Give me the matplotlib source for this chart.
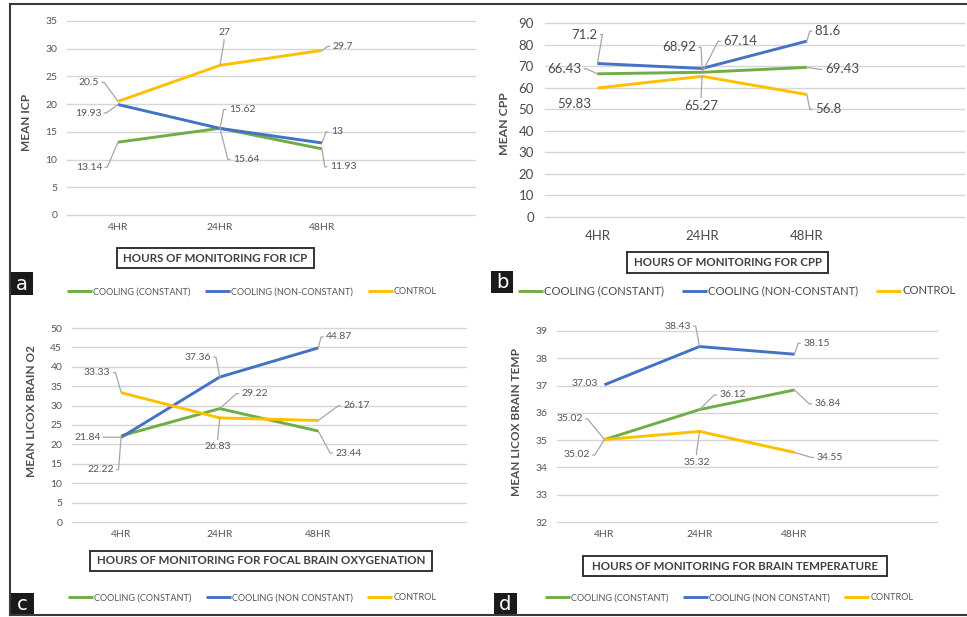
import numpy as np
import matplotlib
matplotlib.use('Agg')
import matplotlib.pyplot as plt
from matplotlib.patches import Rectangle
from matplotlib.lines import Line2D

W, H = 967, 617
plt.rcParams['font.family'] = ['Lato', 'DejaVu Sans']

hours = ['4HR', '24HR', '48HR']

icp_constant = [13.14, 15.64, 11.93]
icp_nonconstant = [19.93, 15.62, 13]
icp_control = [20.5, 27, 29.7]

cpp_constant = [66.43, 67.14, 69.43]
cpp_nonconstant = [71.2, 68.92, 81.6]
cpp_control = [59.83, 65.27, 56.8]

o2_constant = [22.22, 29.22, 23.44]
o2_nonconstant = [21.84, 37.36, 44.87]
o2_control = [33.33, 26.83, 26.17]

temp_constant = [35.02, 36.12, 36.84]
temp_nonconstant = [37.03, 38.43, 38.15]
temp_control = [35.02, 35.32, 34.55]

names_dash = ['COOLING (CONSTANT)', 'COOLING (NON-CONSTANT)', 'CONTROL']
names_space = ['COOLING (CONSTANT)', 'COOLING (NON CONSTANT)', 'CONTROL']

colors = ['#70AD47', '#4472C4', '#FFC000']

fig = plt.figure(figsize=(W / 100, H / 100), dpi=100)


def fx(x):
    return x / W


def fy(y):
    return 1 - y / H


def rect_of(x0, y0, x1, y1):
    return [fx(x0), fy(y1), (x1 - x0) / W, (y1 - y0) / H]


def leader(ax, i, v, off, fs, color):
    # data label pushed away from its point, joined back by a thin grey leader
    dx, dy = off[0], off[1]
    show_line = len(off) < 3 or off[2]
    if abs(dx) < 10:
        relpos = (0.5, 0) if dy > 0 else (0.5, 1)
        ang = -90 if dy > 0 else 90
    elif dx < 0:
        relpos, ang = (1, 0.5), 0
    else:
        relpos, ang = (0, 0.5), 180
    arrow = None
    if show_line:
        arrow = dict(arrowstyle='-', color='#A6A6A6', lw=0.9,
                     relpos=relpos, patchA=None, shrinkA=2, shrinkB=0,
                     connectionstyle=f'arc,angleA={ang},angleB=0,armA=5,armB=0,rad=0')
    ax.annotate(f'{v:g}', xy=(i, v), xytext=(dx, dy), textcoords='offset pixels',
                ha='center', va='center', fontsize=fs, color=color, zorder=4,
                arrowprops=arrow)


def panel(area, series, offsets, ylim, step, fs, ylabel, ylab_xy, ylab_fs,
          xtitle, title_area, title_fs, names, leg_xy, leg_fs, letter, letter_area,
          text_color='#555555', xpad=6, ypad=7):
    ax = fig.add_axes(rect_of(*area))
    xs = np.arange(len(hours))
    handles = []
    for vals, color, offs in zip(series, colors, offsets):
        h, = ax.plot(xs, vals, color=color, lw=2.1, solid_capstyle='butt',
                     solid_joinstyle='miter', zorder=3)
        handles.append(h)
        for i, (v, off) in enumerate(zip(vals, offs)):
            leader(ax, i, v, off, fs, text_color)
    ax.set_xlim(-0.5, 3.5)
    ax.set_ylim(*ylim)
    ax.set_yticks(np.arange(ylim[0], ylim[1] + step / 2, step))
    ax.set_xticks(xs, hours)
    ax.grid(axis='y', color='#D6D6D6', lw=1.0)
    for g in ax.get_ygridlines():
        g.set_clip_on(False)
    ax.set_axisbelow(True)
    for s in ax.spines.values():
        s.set_visible(False)
    ax.tick_params(axis='both', length=0, labelsize=fs, labelcolor=text_color)
    ax.tick_params(axis='x', pad=xpad)
    ax.tick_params(axis='y', pad=ypad)

    fig.text(fx(ylab_xy[0]), fy(ylab_xy[1]), ylabel, rotation=90, ha='center', va='center',
             fontsize=ylab_fs, fontweight='bold', color='#4d4d4d')

    x0, y0, x1, y1 = title_area
    fig.add_artist(Rectangle((fx(x0), fy(y1)), (x1 - x0) / W, (y1 - y0) / H,
                             transform=fig.transFigure, facecolor='white',
                             edgecolor='#333333', lw=1.4))
    fig.text(fx((x0 + x1) / 2), fy((y0 + y1) / 2), xtitle, ha='center', va='center',
             fontsize=title_fs, fontweight='bold', color='#404040')

    leg = ax.legend(handles, names, ncol=3, loc='center', frameon=False,
                    bbox_to_anchor=(fx(leg_xy[0]), fy(leg_xy[1])),
                    bbox_transform=fig.transFigure, fontsize=leg_fs,
                    handlelength=25 / (leg_fs * 1.389), handletextpad=0.1,
                    columnspacing=1.6)
    for t in leg.get_texts():
        t.set_color(text_color)

    x0, y0, x1, y1 = letter_area
    fig.add_artist(Rectangle((fx(x0), fy(y1)), (x1 - x0) / W, (y1 - y0) / H,
                             transform=fig.transFigure, facecolor='#1a1a1a',
                             edgecolor='none'))
    fig.text(fx((x0 + x1) / 2), fy((y0 + y1) / 2 + 1), letter, ha='center', va='center',
             fontsize=14, color='white', family=['DejaVu Sans'])
    return ax


# a: intracranial pressure
panel((67, 21, 475, 215),
      [icp_constant, icp_nonconstant, icp_control],
      [[(-29, -25), (26, -31), (21, -18)],
       [(-30, -8.5), (22, 19), (15, 11)],
       [(-29, 19), (4, 33), (21, 4)]],
      (0, 35), 5, 7.5, 'MEAN ICP', (27, 122), 8.5,
      'HOURS OF MONITORING FOR ICP', (117, 248, 314, 268), 8.3,
      names_dash, (252, 292), 6.6, 'a', (10, 272, 33, 295))

# b: cerebral perfusion pressure
panel((545, 23, 964, 217),
      [cpp_constant, cpp_nonconstant, cpp_control],
      [[(-33, 5), (38, 31), (35, -2)],
       [(-13, 29), (-23, 21), (21, 10)],
       [(-23, -16, False), (-1, -30), (21, -14.5)]],
      (0, 90), 10, 9.5, 'MEAN CPP', (504, 124), 8.8,
      'HOURS OF MONITORING FOR CPP', (627, 252, 828, 273), 8.3,
      names_dash, (737, 291), 8.1, 'b', (491, 271, 513, 293),
      text_color='#4a4a4a', xpad=9, ypad=8)

# c: focal brain oxygenation
panel((72, 328, 466, 522),
      [o2_constant, o2_nonconstant, o2_control],
      [[(-21, -34), (35, 15), (30, -22)],
       [(-34, 0), (-22, 20), (21, 11)],
       [(-24, 20), (-2, -29), (38, 14.5)]],
      (0, 50), 5, 7.5, 'MEAN LICOX BRAIN O2', (32, 411), 8.5,
      'HOURS OF MONITORING FOR FOCAL BRAIN OXYGENATION', (90, 551, 432, 571), 8.3,
      names_space, (252, 598), 6.6, 'c', (10, 593, 34, 615))

# d: brain temperature
panel((557, 331, 937, 522),
      [temp_constant, temp_nonconstant, temp_control],
      [[(-35, 20.6), (33, 14.6), (33, -14)],
       [(-20, 1.7, False), (-22, 20.5), (22, 11)],
       [(-28, -15.4), (-3, -30.6), (35, -5)]],
      (32, 39), 1, 7.5, 'MEAN LICOX BRAIN TEMP', (517, 422), 8.5,
      'HOURS OF MONITORING FOR BRAIN TEMPERATURE', (583, 556, 887, 576), 8.3,
      names_space, (729, 598), 6.6, 'd', (494, 593, 517, 615))

# outer frame: left, top and bottom rules
frame = dict(transform=fig.transFigure, color='#3a3a3a', lw=1.5)
fig.add_artist(Line2D([fx(10), fx(10)], [fy(4), fy(615)], **frame))
fig.add_artist(Line2D([fx(10), 1], [fy(4), fy(4)], **frame))
fig.add_artist(Line2D([fx(10), 1], [fy(615), fy(615)], **frame))

fig.savefig('out.png', dpi=100)
